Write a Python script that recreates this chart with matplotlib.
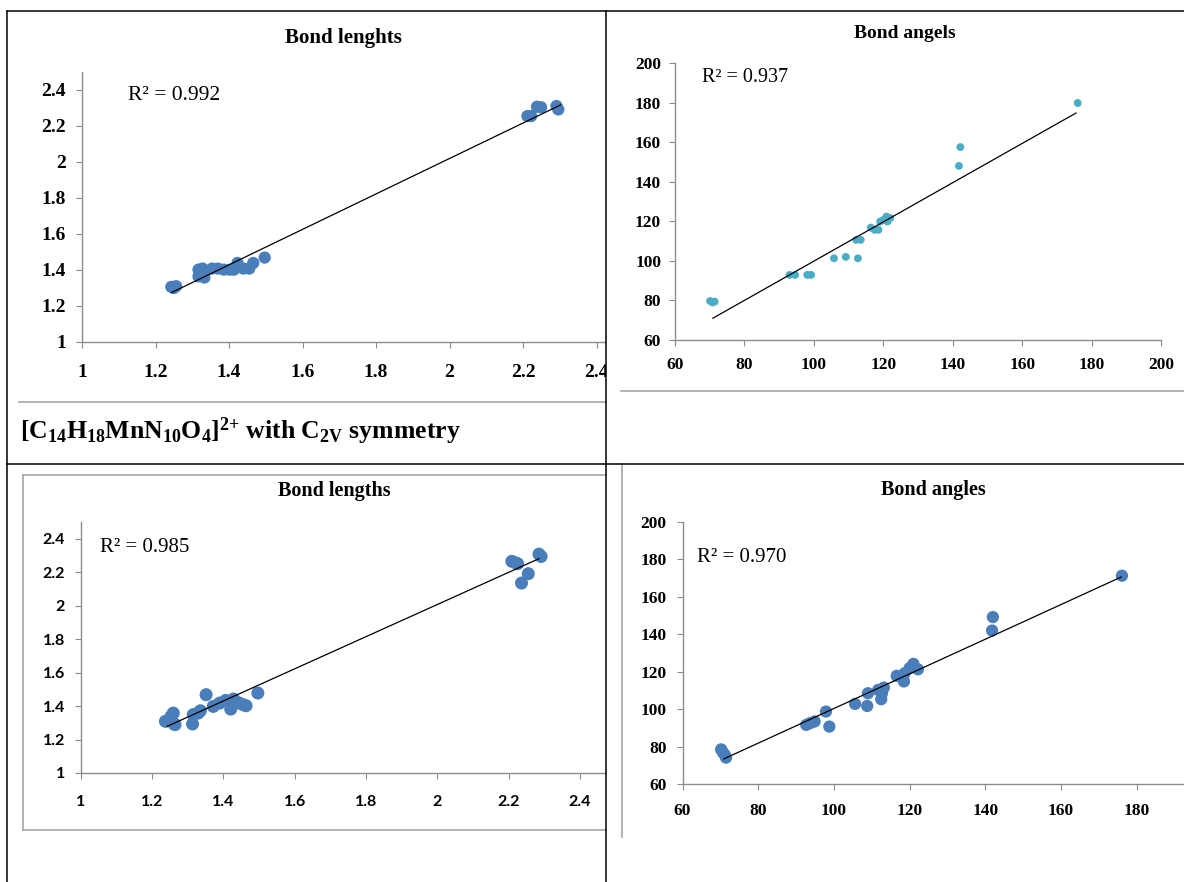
import numpy as np
import matplotlib
matplotlib.use("Agg")
import matplotlib.pyplot as plt
from matplotlib.lines import Line2D
from matplotlib.patches import Rectangle

W, H = 1184, 882

# Bond lengths, first structure (top left)
len1_x = [1.243, 1.256, 1.250, 1.317, 1.328, 1.317, 1.333, 1.354, 1.370, 1.386, 1.402, 1.413,
          1.423, 1.439, 1.455, 1.466, 1.497, 2.212, 2.222, 2.238, 2.249, 2.291, 2.296]
len1_y = [1.306, 1.310, 1.300, 1.402, 1.408, 1.365, 1.358, 1.408, 1.408, 1.402, 1.402, 1.402,
          1.439, 1.408, 1.408, 1.439, 1.469, 2.255, 2.255, 2.307, 2.304, 2.311, 2.292]
len1_fit_x = [1.243, 2.302]
len1_fit_y = [1.274, 2.317]

# Bond angles, first structure (top right)
ang1_x = [70.1, 71.4, 70.8, 93.0, 94.6, 98.1, 99.2, 105.8, 109.2, 112.7, 112.2, 113.5,
          116.4, 117.5, 118.6, 119.1, 120.1, 120.9, 122.0, 121.2, 141.8, 142.2, 176.0]
ang1_y = [79.7, 79.4, 79.0, 92.9, 92.9, 92.9, 92.9, 101.3, 102.0, 101.3, 110.6, 110.6,
          116.8, 115.7, 115.7, 119.9, 120.7, 122.4, 121.6, 119.9, 148.0, 157.5, 179.8]
ang1_fit_x = [70.9, 175.5]
ang1_fit_y = [71.0, 174.7]

# Bond lengths, C2V structure (bottom left)
len2_x = [1.238, 1.254, 1.260, 1.262, 1.265, 1.314, 1.316, 1.330, 1.336, 1.352, 1.372, 1.390, 1.407,
          1.421, 1.429, 1.445, 1.456, 1.464, 1.497, 2.209, 2.220, 2.225, 2.236, 2.255, 2.285, 2.291]
len2_y = [1.309, 1.339, 1.358, 1.293, 1.289, 1.293, 1.349, 1.358, 1.372, 1.468, 1.398, 1.418, 1.434,
          1.382, 1.442, 1.418, 1.408, 1.402, 1.478, 2.265, 2.255, 2.251, 2.135, 2.191, 2.308, 2.294]
len2_fit_x = [1.243, 2.285]
len2_fit_y = [1.279, 2.281]

# Bond angles, C2V structure (bottom right)
ang2_x = [70.2, 70.7, 71.2, 71.5, 92.7, 93.7, 94.9, 97.9, 98.8, 105.6, 108.8, 109.0, 111.7,
          112.5, 112.7, 113.2, 116.6, 118.5, 118.7, 120.0, 121.0, 122.2, 141.8, 142.0, 176.1]
ang2_y = [78.5, 76.8, 75.5, 74.1, 91.6, 92.5, 93.4, 98.7, 90.7, 102.8, 101.7, 108.5, 110.3,
          105.3, 108.5, 111.5, 117.8, 114.8, 119.2, 121.9, 124.2, 121.3, 142.0, 149.2, 171.3]
ang2_fit_x = [70.9, 175.9]
ang2_fit_y = [73.4, 170.6]

len_ticks = [1, 1.2, 1.4, 1.6, 1.8, 2, 2.2, 2.4]
len_labels = ["1", "1.2", "1.4", "1.6", "1.8", "2", "2.2", "2.4"]
ang_ticks = [60, 80, 100, 120, 140, 160, 180, 200]

SERIF = "Liberation Serif"
BLUE = "#4a7ebb"
TEAL = "#4bacc6"
AXIS_GREY = "#8c8c8c"

plt.rcParams["mathtext.fontset"] = "custom"
plt.rcParams["mathtext.rm"] = "Liberation Serif:bold"
plt.rcParams["mathtext.it"] = "Liberation Serif:bold"
plt.rcParams["mathtext.bf"] = "Liberation Serif:bold"

fig = plt.figure(figsize=(W / 100, H / 100), dpi=100)
fig.patch.set_facecolor("white")


def px_rect(l, t, r, b):
    return [l / W, 1 - b / H, (r - l) / W, (b - t) / H]


def chart(rect, xs, ys, fx, fy, xlim, ylim, xticks, xlabels, yticks, ylabels,
          color, size, tickfont, ticksize, xpad, ypad):
    ax = fig.add_axes(px_rect(*rect))
    ax.set_facecolor("none")
    ax.scatter(xs, ys, s=size, color=color, edgecolors="none", zorder=3, clip_on=False)
    ax.plot(fx, fy, color="black", lw=0.9, zorder=4)
    ax.set_xlim(*xlim)
    ax.set_ylim(*ylim)
    ax.set_xticks(xticks)
    ax.set_xticklabels(xlabels)
    ax.set_yticks(yticks)
    ax.set_yticklabels(ylabels)
    for s in ["top", "right"]:
        ax.spines[s].set_visible(False)
    for s in ["left", "bottom"]:
        ax.spines[s].set_color(AXIS_GREY)
        ax.spines[s].set_linewidth(1.0)
    ax.tick_params(direction="out", length=4, width=0.8, color=AXIS_GREY, labelcolor="black")
    ax.tick_params(axis="x", pad=xpad)
    ax.tick_params(axis="y", pad=ypad)
    for lbl in ax.get_xticklabels() + ax.get_yticklabels():
        lbl.set_fontfamily(tickfont)
        lbl.set_fontweight("bold")
        lbl.set_fontsize(ticksize)
    return ax


# top left
chart((82, 72, 605, 342), len1_x, len1_y, len1_fit_x, len1_fit_y,
      (1, 2.423), (1, 2.5), len_ticks, len_labels, len_ticks, len_labels,
      BLUE, 78, SERIF, 14, 11.5, 7.5)
# top right
chart((675, 63, 1161, 340), ang1_x, ang1_y, ang1_fit_x, ang1_fit_y,
      (60, 200), (60, 200), ang_ticks, [str(v) for v in ang_ticks], ang_ticks,
      [str(v) for v in ang_ticks], TEAL, 32, SERIF, 12.5, 8.5, 6)
# bottom left
chart((80.5, 522, 605, 773), len2_x, len2_y, len2_fit_x, len2_fit_y,
      (1, 2.47), (1, 2.5), len_ticks, len_labels, len_ticks, len_labels,
      BLUE, 88, "Lato", 11.5, 12, 7)
# bottom right
chart((682.5, 522, 1184, 784), ang2_x, ang2_y, ang2_fit_x, ang2_fit_y,
      (60, 192.5), (60, 200), ang_ticks[:-1], [str(v) for v in ang_ticks[:-1]], ang_ticks,
      [str(v) for v in ang_ticks], BLUE, 78, SERIF, 12.5, 9.5, 7.5)


def ftext(x, y, s, **kw):
    fig.text(x / W, 1 - y / H, s, **kw)


# titles
ftext(343, 38, "Bond lenghts", ha="center", va="center", family=SERIF, weight="bold", fontsize=15)
ftext(905, 33, "Bond angels", ha="center", va="center", family=SERIF, weight="bold", fontsize=14)
ftext(334, 491, "Bond lengths", ha="center", va="center", family=SERIF, weight="bold", fontsize=14.5)
ftext(933, 490, "Bond angles", ha="center", va="center", family=SERIF, weight="bold", fontsize=14.5)

# R squared labels
ftext(174.5, 95, "R² = 0.992", ha="center", va="center", family=SERIF, fontsize=15.5)
ftext(745, 77, "R² = 0.937", ha="center", va="center", family=SERIF, fontsize=14.5)
ftext(144.5, 547, "R² = 0.985", ha="center", va="center", family=SERIF, fontsize=15)
ftext(741.5, 557, "R² = 0.970", ha="center", va="center", family=SERIF, fontsize=15)

# caption in the table cell
ftext(20, 439, r"[C$_{14}$H$_{18}$MnN$_{10}$O$_{4}$]$^{2{+}}$ with C$_{2V}$ symmetry",
      ha="left", va="baseline", family=SERIF, weight="bold", fontsize=18.5)


def fline(x0, y0, x1, y1, color, lw, z=5):
    fig.add_artist(Line2D([x0 / W, x1 / W], [1 - y0 / H, 1 - y1 / H],
                          transform=fig.transFigure, color=color, lw=lw, zorder=z))


# hide the part of the top-left 2.4 label that spills over the cell edge
fig.add_artist(Rectangle((606 / W, 1 - 395 / H), 13 / W, 45 / H, transform=fig.transFigure,
                         facecolor="white", edgecolor="none", zorder=4))

# grey chart frames
g = "#a6a6a6"
fline(19, 402, 606, 402, g, 1.2)
fline(621, 391, 1184, 391, g, 1.2)
fline(23, 475, 606, 475, g, 1.2)
fline(23, 475, 23, 830, g, 1.2)
fline(23, 830, 606, 830, g, 1.2)
fline(622, 464, 622, 837, g, 1.2)

# table borders
fline(7, 11, 1184, 11, "black", 1.1, 6)
fline(7, 11, 7, 882, "black", 1.1, 6)
fline(606, 11, 606, 882, "black", 1.1, 6)
fline(7, 464, 1184, 464, "black", 1.1, 6)

fig.savefig("out.png", dpi=100)
